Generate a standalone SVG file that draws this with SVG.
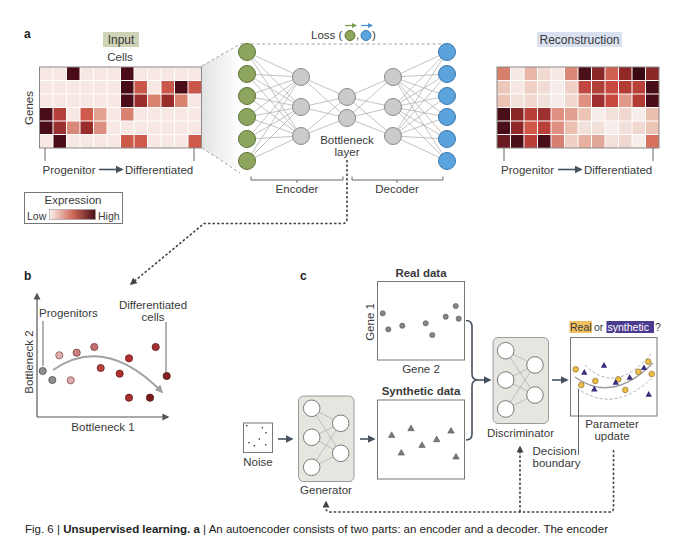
<svg xmlns="http://www.w3.org/2000/svg" width="680" height="543" viewBox="0 0 680 543">
<defs>
<style>
text{font-family:"Liberation Sans",Arial,sans-serif;fill:#3a3a3a;font-size:11.5px}
.bl{font-weight:bold;font-size:12px;fill:#222}
.bd{font-weight:bold}
.mid{text-anchor:middle}
.net{stroke:#b4b4b4;stroke-width:0.8}
.gn{fill:#8ea55d;stroke:#5d7238;stroke-width:1}
.bn{fill:#5ba3dc;stroke:#3a78b0;stroke-width:1}
.gy{fill:#cbcbcb;stroke:#8a8a8a;stroke-width:1}
.wn{fill:#fff;stroke:#7a7a7a;stroke-width:1}
.grid{stroke:#fff;stroke-width:1}
.dot{fill:none;stroke:#444;stroke-width:1.6;stroke-dasharray:2.5 2}
.arr{stroke:#46525e;stroke-width:1.6;fill:none}
.tick{stroke:#666;stroke-width:1;fill:none}
.box{fill:#fff;stroke:#777;stroke-width:1}
.nbox{fill:#e7e5df;stroke:#9a9a9a;stroke-width:1}
</style>
<linearGradient id="leg" x1="0" x2="1" y1="0" y2="0">
<stop offset="0" stop-color="#fbefec"/>
<stop offset="0.5" stop-color="#cf6a58"/>
<stop offset="1" stop-color="#4a0d17"/>
</linearGradient>
<linearGradient id="shade" x1="0" x2="1" y1="0" y2="0">
<stop offset="0" stop-color="#e2e2e2"/>
<stop offset="1" stop-color="#ffffff"/>
</linearGradient>
<marker id="ah" viewBox="0 0 10 10" refX="8" refY="5" markerWidth="7" markerHeight="7" markerUnits="userSpaceOnUse" orient="auto">
<path d="M0,0 L10,5 L0,10 z" fill="#444"/>
</marker>
<marker id="ah2" viewBox="0 0 10 10" refX="8" refY="5" markerWidth="8" markerHeight="8" markerUnits="userSpaceOnUse" orient="auto">
<path d="M0,0 L10,5 L0,10 z" fill="#46525e"/>
</marker>
<marker id="ahg" viewBox="0 0 10 10" refX="8" refY="5" markerWidth="8" markerHeight="8" markerUnits="userSpaceOnUse" orient="auto">
<path d="M0,0 L10,5 L0,10 z" fill="#a0a0a0"/>
</marker>
<marker id="ahx" viewBox="0 0 10 10" refX="8" refY="5" markerWidth="7" markerHeight="7" markerUnits="userSpaceOnUse" orient="auto">
<path d="M0,0 L10,5 L0,10 z" fill="#555"/>
</marker>
<marker id="ahgr" viewBox="0 0 10 10" refX="8" refY="5" markerWidth="5" markerHeight="5" markerUnits="userSpaceOnUse" orient="auto">
<path d="M0,0 L10,5 L0,10 z" fill="#7a9a50"/>
</marker>
<marker id="ahbl" viewBox="0 0 10 10" refX="8" refY="5" markerWidth="5" markerHeight="5" markerUnits="userSpaceOnUse" orient="auto">
<path d="M0,0 L10,5 L0,10 z" fill="#4a90d0"/>
</marker>
<path id="tri" d="M0,-3.2 L3.2,2.4 L-3.2,2.4 z"/>
</defs>
<rect width="680" height="543" fill="#fff"/>

<!-- Panel a -->
<text class="bl" x="24" y="38">a</text>
<g id="input-heatmap">
<rect x="103" y="32" width="36" height="15" fill="#cdd3b4"/>
<text class="mid" x="121" y="43.5" style="font-size:12px">Input</text>
<text class="mid" x="120" y="61">Cells</text>
<text class="mid" transform="translate(33,108) rotate(-90)">Genes</text>
<rect x="39.5" y="67" width="162" height="81" fill="#f7e8e4"/>
<g>
<rect x="66.5" y="67" width="13.5" height="13.5" fill="#4a0d17"/>
<rect x="120.5" y="67" width="13.5" height="13.5" fill="#4a0d17"/>
<rect x="120.5" y="80.5" width="13.5" height="13.5" fill="#4a0d17"/>
<rect x="134" y="80.5" width="13.5" height="13.5" fill="#c9574a"/>
<rect x="161" y="80.5" width="13.5" height="13.5" fill="#c9574a"/>
<rect x="174.5" y="80.5" width="13.5" height="13.5" fill="#4a0d17"/>
<rect x="188" y="80.5" width="13.5" height="13.5" fill="#c9574a"/>
<rect x="120.5" y="94" width="13.5" height="13.5" fill="#4a0d17"/>
<rect x="134" y="94" width="13.5" height="13.5" fill="#9a2c2c"/>
<rect x="147.5" y="94" width="13.5" height="13.5" fill="#d9826f"/>
<rect x="161" y="94" width="13.5" height="13.5" fill="#9a2c2c"/>
<rect x="174.5" y="94" width="13.5" height="13.5" fill="#d9826f"/>
<rect x="39.5" y="107.5" width="13.5" height="13.5" fill="#4a0d17"/>
<rect x="53" y="107.5" width="13.5" height="13.5" fill="#b3413a"/>
<rect x="80" y="107.5" width="13.5" height="13.5" fill="#cd5a4a"/>
<rect x="93.5" y="107.5" width="13.5" height="13.5" fill="#e3a28f"/>
<rect x="120.5" y="107.5" width="13.5" height="13.5" fill="#d9826f"/>
<rect x="39.5" y="121" width="13.5" height="13.5" fill="#4a0d17"/>
<rect x="53" y="121" width="13.5" height="13.5" fill="#9a3030"/>
<rect x="66.5" y="121" width="13.5" height="13.5" fill="#d8897a"/>
<rect x="80" y="121" width="13.5" height="13.5" fill="#9a2c2c"/>
<rect x="93.5" y="121" width="13.5" height="13.5" fill="#dc8f7e"/>
<rect x="53" y="134.5" width="13.5" height="13.5" fill="#4a0d17"/>
<rect x="120.5" y="134.5" width="13.5" height="13.5" fill="#cd5a4a"/>
<rect x="134" y="134.5" width="13.5" height="13.5" fill="#cd5a4a"/>
<rect x="188" y="134.5" width="13.5" height="13.5" fill="#cd5a4a"/>
</g>
<path class="grid" d="M53,67V148M66.5,67V148M80,67V148M93.5,67V148M107,67V148M120.5,67V148M134,67V148M147.5,67V148M161,67V148M174.5,67V148M188,67V148M39.5,80.5H201.5M39.5,94H201.5M39.5,107.5H201.5M39.5,121H201.5M39.5,134.5H201.5"/>
<rect x="39.5" y="67" width="162" height="81" fill="none" stroke="#8a8a8a" stroke-width="1"/>
<path class="tick" d="M45,148V161M194,148V161"/>
<text x="42.5" y="174">Progenitor</text>
<line x1="99" y1="169.5" x2="122" y2="169.5" class="arr" marker-end="url(#ah2)"/>
<text x="125" y="174">Differentiated</text>
</g>

<g id="legend">
<rect x="24.5" y="192.5" width="98" height="31" fill="#fff" stroke="#777" stroke-width="1"/>
<text class="mid" x="73" y="204">Expression</text>
<text x="27" y="219.5" style="font-size:10.5px">Low</text>
<rect x="49.5" y="209.5" width="46" height="10" fill="url(#leg)" stroke="#999" stroke-width="0.6"/>
<text x="98" y="219.5" style="font-size:10.5px">High</text>
</g>

<g id="autoencoder">
<polygon points="202,66 240,44 240,172 202,148" fill="url(#shade)"/>
<path d="M202,66 L240,44 H445 M202,148 L240,173" fill="none" stroke="#999" stroke-width="0.9" stroke-dasharray="3 2.5"/>
<g id="loss">
<text x="311" y="39">Loss (</text>
<circle cx="350" cy="35.5" r="5" class="gn"/>
<text x="356" y="39">,</text>
<circle cx="366" cy="35.5" r="5" class="bn"/>
<text x="372" y="39">)</text>
<line x1="345" y1="25.5" x2="356" y2="25.5" stroke="#7a9a50" stroke-width="1.2" marker-end="url(#ahgr)"/>
<line x1="361" y1="25.5" x2="372" y2="25.5" stroke="#4a90d0" stroke-width="1.2" marker-end="url(#ahbl)"/>
</g>
<g class="net">
<path d="M247,52L301,77M247,52L301,107M247,52L301,136M247,74L301,77M247,74L301,107M247,74L301,136M247,96L301,77M247,96L301,107M247,96L301,136M247,117L301,77M247,117L301,107M247,117L301,136M247,139L301,77M247,139L301,107M247,139L301,136M247,161L301,77M247,161L301,107M247,161L301,136"/>
<path d="M301,77L347,97M301,77L347,118M301,107L347,97M301,107L347,118M301,136L347,97M301,136L347,118"/>
<path d="M347,97L393,77M347,97L393,107M347,97L393,136M347,118L393,77M347,118L393,107M347,118L393,136"/>
<path d="M447,52L393,77M447,52L393,107M447,52L393,136M447,74L393,77M447,74L393,107M447,74L393,136M447,96L393,77M447,96L393,107M447,96L393,136M447,117L393,77M447,117L393,107M447,117L393,136M447,139L393,77M447,139L393,107M447,139L393,136M447,161L393,77M447,161L393,107M447,161L393,136"/>
</g>
<g id="input-layer">
<circle cx="247" cy="52" r="8.5" class="gn"/><circle cx="247" cy="74" r="8.5" class="gn"/><circle cx="247" cy="96" r="8.5" class="gn"/><circle cx="247" cy="117" r="8.5" class="gn"/><circle cx="247" cy="139" r="8.5" class="gn"/><circle cx="247" cy="161" r="8.5" class="gn"/>
</g>
<g id="encoder-layer">
<circle cx="301" cy="77" r="8.5" class="gy"/><circle cx="301" cy="107" r="8.5" class="gy"/><circle cx="301" cy="136" r="8.5" class="gy"/>
</g>
<g id="bottleneck-layer">
<circle cx="347" cy="97" r="8.5" class="gy"/><circle cx="347" cy="118" r="8.5" class="gy"/>
<text class="mid" x="347" y="144">Bottleneck</text>
<text class="mid" x="347" y="156">layer</text>
</g>
<g id="decoder-layer">
<circle cx="393" cy="77" r="8.5" class="gy"/><circle cx="393" cy="107" r="8.5" class="gy"/><circle cx="393" cy="136" r="8.5" class="gy"/>
</g>
<g id="output-layer">
<circle cx="447" cy="52" r="8.5" class="bn"/><circle cx="447" cy="74" r="8.5" class="bn"/><circle cx="447" cy="96" r="8.5" class="bn"/><circle cx="447" cy="117" r="8.5" class="bn"/><circle cx="447" cy="139" r="8.5" class="bn"/><circle cx="447" cy="161" r="8.5" class="bn"/>
</g>
<g id="brackets">
<path class="tick" d="M251,176.5V180H343V176.5M297,180V183M352,176.5V180H443V176.5M397,180V183"/>
<text class="mid" x="297" y="193">Encoder</text>
<text class="mid" x="397" y="193">Decoder</text>
</g>
</g>

<g id="reconstruction-heatmap">
<rect x="537" y="32" width="85" height="15" fill="#d9e1f1"/>
<text class="mid" x="579.5" y="43.5" style="font-size:12px">Reconstruction</text>
<g>
<rect x="497" y="67" width="13.5" height="13.5" fill="#d8806e"/>
<rect x="510.5" y="67" width="13.5" height="13.5" fill="#f6e9e5"/>
<rect x="524" y="67" width="13.5" height="13.5" fill="#e8b6a6"/>
<rect x="537.5" y="67" width="13.5" height="13.5" fill="#f1dad2"/>
<rect x="551" y="67" width="13.5" height="13.5" fill="#f6e9e5"/>
<rect x="564.5" y="67" width="13.5" height="13.5" fill="#d98878"/>
<rect x="578" y="67" width="13.5" height="13.5" fill="#4a1018"/>
<rect x="591.5" y="67" width="13.5" height="13.5" fill="#8a2828"/>
<rect x="605" y="67" width="13.5" height="13.5" fill="#d06050"/>
<rect x="618.5" y="67" width="13.5" height="13.5" fill="#902828"/>
<rect x="632" y="67" width="13.5" height="13.5" fill="#3a0a12"/>
<rect x="645.5" y="67" width="13.5" height="13.5" fill="#8a2828"/>
<rect x="497" y="80.5" width="13.5" height="13.5" fill="#ecc8b8"/>
<rect x="510.5" y="80.5" width="13.5" height="13.5" fill="#f5e8e4"/>
<rect x="524" y="80.5" width="13.5" height="13.5" fill="#f0d0c4"/>
<rect x="537.5" y="80.5" width="13.5" height="13.5" fill="#f0dcd4"/>
<rect x="551" y="80.5" width="13.5" height="13.5" fill="#f6ecea"/>
<rect x="564.5" y="80.5" width="13.5" height="13.5" fill="#f0d0c4"/>
<rect x="578" y="80.5" width="13.5" height="13.5" fill="#c04840"/>
<rect x="591.5" y="80.5" width="13.5" height="13.5" fill="#b04038"/>
<rect x="605" y="80.5" width="13.5" height="13.5" fill="#c84840"/>
<rect x="618.5" y="80.5" width="13.5" height="13.5" fill="#b03c34"/>
<rect x="632" y="80.5" width="13.5" height="13.5" fill="#b84038"/>
<rect x="645.5" y="80.5" width="13.5" height="13.5" fill="#4a0e18"/>
<rect x="497" y="94" width="13.5" height="13.5" fill="#ecc4b4"/>
<rect x="510.5" y="94" width="13.5" height="13.5" fill="#f2e0da"/>
<rect x="524" y="94" width="13.5" height="13.5" fill="#f0d8d0"/>
<rect x="537.5" y="94" width="13.5" height="13.5" fill="#f2e0da"/>
<rect x="551" y="94" width="13.5" height="13.5" fill="#f6ecea"/>
<rect x="564.5" y="94" width="13.5" height="13.5" fill="#f0d8d0"/>
<rect x="578" y="94" width="13.5" height="13.5" fill="#e09080"/>
<rect x="591.5" y="94" width="13.5" height="13.5" fill="#a03030"/>
<rect x="605" y="94" width="13.5" height="13.5" fill="#c84840"/>
<rect x="618.5" y="94" width="13.5" height="13.5" fill="#e09888"/>
<rect x="632" y="94" width="13.5" height="13.5" fill="#b03c34"/>
<rect x="645.5" y="94" width="13.5" height="13.5" fill="#4a0e18"/>
<rect x="497" y="107.5" width="13.5" height="13.5" fill="#4a0e18"/>
<rect x="510.5" y="107.5" width="13.5" height="13.5" fill="#8a2828"/>
<rect x="524" y="107.5" width="13.5" height="13.5" fill="#b84038"/>
<rect x="537.5" y="107.5" width="13.5" height="13.5" fill="#a03030"/>
<rect x="551" y="107.5" width="13.5" height="13.5" fill="#e09080"/>
<rect x="564.5" y="107.5" width="13.5" height="13.5" fill="#e0a090"/>
<rect x="578" y="107.5" width="13.5" height="13.5" fill="#ecc4b4"/>
<rect x="591.5" y="107.5" width="13.5" height="13.5" fill="#f6ecea"/>
<rect x="605" y="107.5" width="13.5" height="13.5" fill="#f2e0da"/>
<rect x="618.5" y="107.5" width="13.5" height="13.5" fill="#f0d8d0"/>
<rect x="632" y="107.5" width="13.5" height="13.5" fill="#f6ecea"/>
<rect x="645.5" y="107.5" width="13.5" height="13.5" fill="#ecc0b0"/>
<rect x="497" y="121" width="13.5" height="13.5" fill="#4a0e18"/>
<rect x="510.5" y="121" width="13.5" height="13.5" fill="#902828"/>
<rect x="524" y="121" width="13.5" height="13.5" fill="#d05848"/>
<rect x="537.5" y="121" width="13.5" height="13.5" fill="#b84038"/>
<rect x="551" y="121" width="13.5" height="13.5" fill="#e09080"/>
<rect x="564.5" y="121" width="13.5" height="13.5" fill="#ecc0b0"/>
<rect x="578" y="121" width="13.5" height="13.5" fill="#f2e0da"/>
<rect x="591.5" y="121" width="13.5" height="13.5" fill="#f2e0da"/>
<rect x="605" y="121" width="13.5" height="13.5" fill="#f6ecea"/>
<rect x="618.5" y="121" width="13.5" height="13.5" fill="#f2e0da"/>
<rect x="632" y="121" width="13.5" height="13.5" fill="#f0d8d0"/>
<rect x="645.5" y="121" width="13.5" height="13.5" fill="#ecc4b4"/>
<rect x="497" y="134.5" width="13.5" height="13.5" fill="#6a1a20"/>
<rect x="510.5" y="134.5" width="13.5" height="13.5" fill="#4a0e18"/>
<rect x="524" y="134.5" width="13.5" height="13.5" fill="#b84038"/>
<rect x="537.5" y="134.5" width="13.5" height="13.5" fill="#4a0e18"/>
<rect x="551" y="134.5" width="13.5" height="13.5" fill="#d88070"/>
<rect x="564.5" y="134.5" width="13.5" height="13.5" fill="#f0d0c4"/>
<rect x="578" y="134.5" width="13.5" height="13.5" fill="#e8b0a0"/>
<rect x="591.5" y="134.5" width="13.5" height="13.5" fill="#e0a898"/>
<rect x="605" y="134.5" width="13.5" height="13.5" fill="#f2e0da"/>
<rect x="618.5" y="134.5" width="13.5" height="13.5" fill="#f0d8d0"/>
<rect x="632" y="134.5" width="13.5" height="13.5" fill="#f6ecea"/>
<rect x="645.5" y="134.5" width="13.5" height="13.5" fill="#d87060"/>
</g>
<path class="grid" d="M510.5,67V148M524,67V148M537.5,67V148M551,67V148M564.5,67V148M578,67V148M591.5,67V148M605,67V148M618.5,67V148M632,67V148M645.5,67V148M497,80.5H659M497,94H659M497,107.5H659M497,121H659M497,134.5H659"/>
<rect x="497" y="67" width="162" height="81" fill="none" stroke="#8a8a8a" stroke-width="1"/>
<path class="tick" d="M504,148V161M653,148V161"/>
<text x="501" y="174">Progenitor</text>
<line x1="558" y1="169.5" x2="581" y2="169.5" class="arr" marker-end="url(#ah2)"/>
<text x="584" y="174">Differentiated</text>
</g>

<!-- Panel b -->
<text class="bl" x="24" y="280">b</text>
<g id="latent-plot">
<line x1="37" y1="417" x2="37" y2="294" stroke="#555" stroke-width="1.2" marker-end="url(#ahx)"/>
<line x1="37" y1="417" x2="168" y2="417" stroke="#555" stroke-width="1.2" marker-end="url(#ahx)"/>
<text class="mid" transform="translate(33,362) rotate(-90)">Bottleneck 2</text>
<text class="mid" x="103" y="431">Bottleneck 1</text>
<text x="39" y="317">Progenitors</text>
<text class="mid" x="153" y="309">Differentiated</text>
<text class="mid" x="153" y="321">cells</text>
<path class="tick" d="M43,321V366M166,322V372"/>
<path d="M53,370 Q105,334 162,392" fill="none" stroke="#a0a0a0" stroke-width="1.8" marker-end="url(#ahg)"/>
<g stroke-width="0.8">
<circle cx="42.7" cy="371" r="3.6" fill="#8c8c8c" stroke="#555"/>
<circle cx="52.3" cy="380" r="3.6" fill="#8c8c8c" stroke="#555"/>
<circle cx="59.3" cy="355.3" r="3.6" fill="#dcaeae" stroke="#8a5050"/>
<circle cx="70.7" cy="380.3" r="3.6" fill="#dcaeae" stroke="#8a5050"/>
<circle cx="76.7" cy="352.7" r="3.6" fill="#c98080" stroke="#7a3a3a"/>
<circle cx="94.3" cy="347" r="3.6" fill="#c47070" stroke="#7a3a3a"/>
<circle cx="100.7" cy="368" r="3.6" fill="#b84040" stroke="#6a2020"/>
<circle cx="129" cy="358.3" r="3.6" fill="#b03030" stroke="#6a1a1a"/>
<circle cx="119.7" cy="373.7" r="3.6" fill="#b03030" stroke="#6a1a1a"/>
<circle cx="155.7" cy="347" r="3.6" fill="#a83030" stroke="#5a1515"/>
<circle cx="166.7" cy="376" r="3.6" fill="#8a2020" stroke="#4a1010"/>
<circle cx="129" cy="397.7" r="3.6" fill="#a83030" stroke="#5a1515"/>
<circle cx="150" cy="397.7" r="3.6" fill="#7a1a1a" stroke="#4a1010"/>
</g>
</g>

<!-- Panel c -->
<text class="bl" x="300" y="280">c</text>
<g id="real-data">
<text class="mid bd" x="421" y="277" style="font-size:11.5px">Real data</text>
<rect x="377.5" y="281.5" width="87" height="78.5" class="box"/>
<text class="mid" transform="translate(374,322) rotate(-90)">Gene 1</text>
<text class="mid" x="421" y="373">Gene 2</text>
<g fill="#858585" stroke="#555" stroke-width="0.6">
<circle cx="382.7" cy="313.3" r="2.6"/><circle cx="388.3" cy="329.3" r="2.6"/><circle cx="402.3" cy="325.7" r="2.6"/><circle cx="425.7" cy="323.3" r="2.6"/><circle cx="432.3" cy="335" r="2.6"/><circle cx="445.7" cy="316.7" r="2.6"/><circle cx="455.7" cy="306" r="2.6"/><circle cx="458.7" cy="318.7" r="2.6"/>
</g>
</g>
<g id="synthetic-data">
<text class="mid bd" x="421" y="395" style="font-size:11.5px">Synthetic data</text>
<rect x="377.5" y="400" width="87" height="79" class="box"/>
<g fill="#7a7a7a" stroke="#444" stroke-width="0.5">
<use href="#tri" x="391.7" y="435"/><use href="#tri" x="411" y="428.3"/><use href="#tri" x="401.3" y="452.7"/><use href="#tri" x="422" y="445"/><use href="#tri" x="436.7" y="439.3"/><use href="#tri" x="451" y="430.7"/><use href="#tri" x="456" y="456.7"/>
</g>
</g>
<g id="noise">
<rect x="243.5" y="423" width="29" height="29.5" class="box"/>
<g fill="#222">
<circle cx="246.7" cy="425.7" r="0.8"/><circle cx="262.3" cy="427.7" r="0.8"/><circle cx="266" cy="432.7" r="0.8"/><circle cx="259.3" cy="439" r="0.8"/><circle cx="249" cy="442.7" r="0.8"/><circle cx="254.3" cy="445.7" r="0.8"/><circle cx="265.7" cy="444.7" r="0.8"/>
</g>
<text class="mid" x="258" y="466">Noise</text>
</g>
<g id="generator">
<rect x="298.5" y="396" width="55.5" height="85.5" rx="5" class="nbox"/>
<path class="net" d="M311.7,408.3L340.7,423.3M311.7,408.3L340.7,453.3M311.7,437.3L340.7,423.3M311.7,437.3L340.7,453.3M311.7,467.3L340.7,423.3M311.7,467.3L340.7,453.3" stroke="#999"/>
<circle cx="311.7" cy="408.3" r="8.3" class="wn"/><circle cx="311.7" cy="437.3" r="8.3" class="wn"/><circle cx="311.7" cy="467.3" r="8.3" class="wn"/>
<circle cx="340.7" cy="423.3" r="8.3" class="wn"/><circle cx="340.7" cy="453.3" r="8.3" class="wn"/>
<text class="mid" x="326" y="494">Generator</text>
</g>
<g id="discriminator">
<rect x="493" y="337.5" width="55.5" height="86" rx="5" class="nbox"/>
<path class="net" d="M505.7,350.7L535,365M505.7,350.7L535,395M505.7,380L535,365M505.7,380L535,395M505.7,409L535,365M505.7,409L535,395" stroke="#999"/>
<circle cx="505.7" cy="350.7" r="8.3" class="wn"/><circle cx="505.7" cy="380" r="8.3" class="wn"/><circle cx="505.7" cy="409" r="8.3" class="wn"/>
<circle cx="535" cy="365" r="8.3" class="wn"/><circle cx="535" cy="395" r="8.3" class="wn"/>
<text class="mid" x="520.5" y="437">Discriminator</text>
</g>
<g id="decision-plot">
<rect x="569.5" y="321" width="22.5" height="12" fill="#f1c063"/>
<text x="570" y="331" style="font-size:10.5px">Real</text>
<text x="594" y="331" style="font-size:10.5px">or</text>
<rect x="606.5" y="321" width="47.5" height="12" fill="#4b3b8f"/>
<text x="607.5" y="331" style="font-size:10.5px;fill:#fff">synthetic</text>
<text x="655" y="331" style="font-size:10.5px">?</text>
<rect x="570.5" y="337.5" width="86.5" height="78.5" class="box"/>
<path d="M575,377 Q612,404 653,363" fill="none" stroke="#9a9a9a" stroke-width="1.3"/>
<path d="M585,365 Q616,396 652,353 M577,388 Q614,415 653,377" fill="none" stroke="#aaa" stroke-width="0.9" stroke-dasharray="3 2"/>
<g fill="#efbf45" stroke="#7a5a1a" stroke-width="0.6">
<circle cx="575.7" cy="369.3" r="2.8"/><circle cx="595.3" cy="381" r="2.8"/><circle cx="581.3" cy="385" r="2.8"/><circle cx="618.3" cy="379.3" r="2.8"/><circle cx="625.3" cy="390" r="2.8"/><circle cx="638.3" cy="371.7" r="2.8"/><circle cx="648.3" cy="361.7" r="2.8"/><circle cx="651.7" cy="374" r="2.8"/>
</g>
<g fill="#3b2d7d">
<use href="#tri" x="584.3" y="372.3"/><use href="#tri" x="604" y="365.3"/><use href="#tri" x="615.7" y="382.3"/><use href="#tri" x="629.7" y="377.3"/><use href="#tri" x="644" y="367.7"/><use href="#tri" x="594.3" y="389"/><use href="#tri" x="648.7" y="394.3"/>
</g>
<text class="mid" x="612" y="428">Parameter</text>
<text class="mid" x="612" y="440">update</text>
<path class="tick" d="M578.5,455V389"/>
<text x="532.5" y="455">Decision</text>
<text x="532.5" y="467">boundary</text>
</g>

<g id="connectors">
<path class="arr" d="M466,320.5 Q472,320.5 472,326.5 V374 Q472,380 478,380 Q472,380 472,386 V434 Q472,440 466,440"/>
<line x1="478" y1="380" x2="490" y2="380" class="arr" marker-end="url(#ah2)"/>
<line x1="278" y1="439" x2="292" y2="439" class="arr" marker-end="url(#ah2)"/>
<line x1="360" y1="439" x2="374" y2="439" class="arr" marker-end="url(#ah2)"/>
<line x1="552" y1="380" x2="567" y2="380" class="arr" marker-end="url(#ah2)"/>
<path class="dot" d="M347,160 V219 Q347,223.5 342,223.5 H204 L131,284" marker-end="url(#ah)"/>
<path class="dot" d="M613.5,450 V508 Q613.5,512 609,512 H330 Q326,512 326,508 V502" marker-end="url(#ah)"/>
<path class="dot" d="M520,512 V447" marker-end="url(#ah)"/>
</g>

<text x="25" y="533" textLength="583" lengthAdjust="spacingAndGlyphs" style="font-size:11.5px;fill:#222">Fig. 6 | <tspan class="bd">Unsupervised learning. a</tspan> | An autoencoder consists of two parts: an encoder and a decoder. The encoder</text>
</svg>
